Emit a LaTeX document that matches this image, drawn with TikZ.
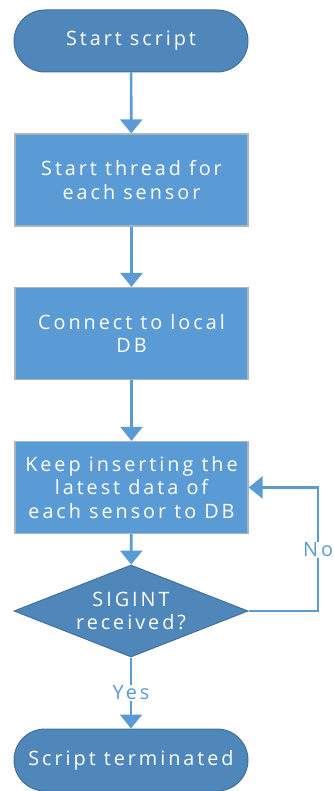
\documentclass[tikz,border=0pt]{standalone}
\usepackage{fontspec}
\setmainfont[LetterSpace=15]{Open Sans}
\usetikzlibrary{arrows.meta,shapes.geometric}
\definecolor{termfill}{HTML}{4F87BA}
\definecolor{termline}{HTML}{41719C}
\definecolor{procfill}{HTML}{5B9BD5}
\definecolor{procline}{HTML}{A9B4BF}
\definecolor{flow}{HTML}{5B9BD5}
\begin{document}
\begin{tikzpicture}[x=1pt,y=1pt,
  every node/.style={font=\fontsize{19.8}{23.5}\selectfont, text=white, align=center},
  terminal/.style={draw=termline, line width=1pt, fill=termfill, rounded corners=31pt,
    minimum width=234pt, minimum height=62pt, inner sep=0pt},
  process/.style={draw=procline, line width=1.2pt, fill=procfill,
    minimum width=233pt, minimum height=92pt, inner sep=0pt},
  decision/.style={draw=termline, line width=1pt, fill=termfill, diamond,
    minimum width=234pt, minimum height=92pt, inner sep=0pt},
  flowarrow/.style={draw=flow, line width=2.6pt,
    -{Triangle[width=22pt,length=14pt]}},
  branch/.style={fill=white, text=flow, inner sep=1pt}]
  \useasboundingbox (0,0) rectangle (334,-791);

  \node[terminal] (start) at (131,-41) {Start script};
  \node[process] (thread) at (131.5,-180) {Start thread for\\each sensor};
  \node[process] (connect) at (131.5,-333.5) {Connect to local\\DB};
  \node[process] (insert) at (131.5,-487.5) {Keep inserting the\\latest data of\\each sensor to DB};
  \node[decision] (sigint) at (131,-611) {};
  \node (sigtext) at (131,-611) {SIGINT\\received?};
  \node[terminal] (stop) at (131,-760) {Script terminated};

  \coordinate (loopa) at (318,-611);

  \draw[flowarrow] (start) -- (thread);
  \draw[flowarrow] (thread) -- (connect);
  \draw[flowarrow] (connect) -- (insert);
  \draw[flowarrow] (insert) -- (sigint);
  \draw[flowarrow] (sigint.east) -- (loopa) |- (insert.east);
  \draw[flowarrow] (sigint.south) -- (stop.north);

  \node[branch, anchor=west] (no) at (302,-550) {No};
  \node[branch] (yes) at (131,-693) {Yes};
\end{tikzpicture}
\end{document}
